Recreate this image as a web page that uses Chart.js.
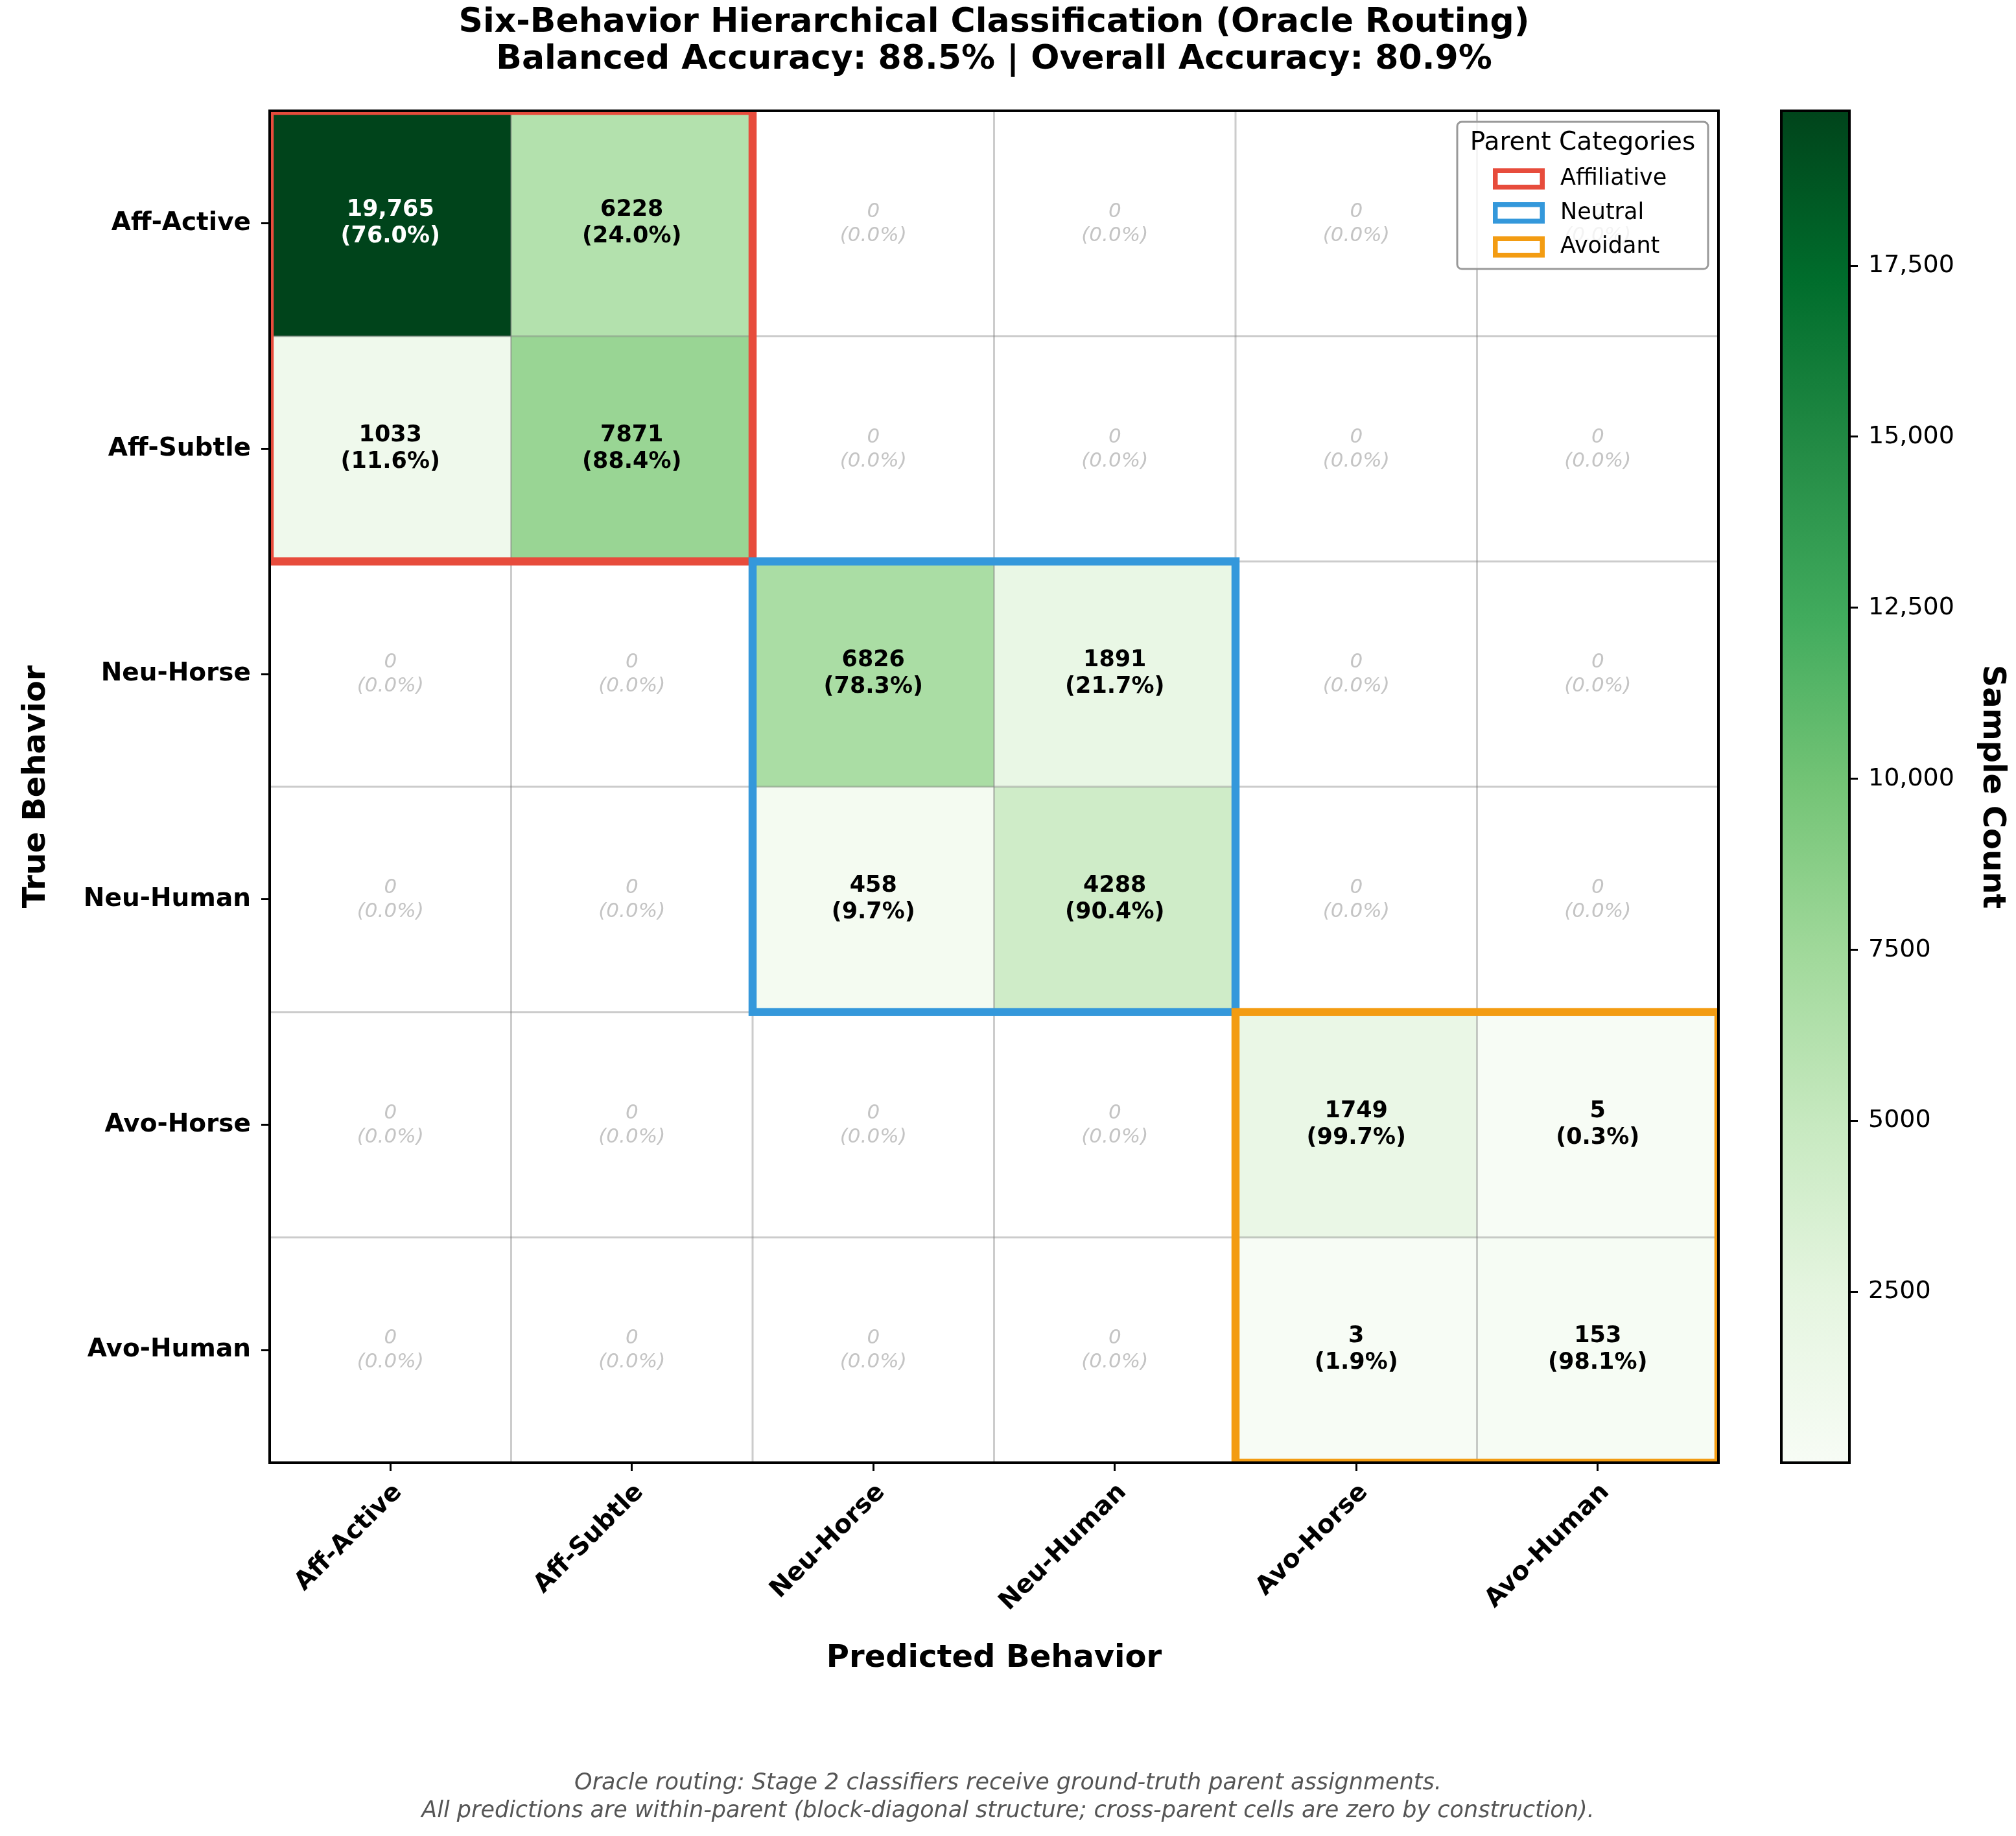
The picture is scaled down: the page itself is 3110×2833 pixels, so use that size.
<!DOCTYPE html>
<html>
<head>
<meta charset="utf-8">
<script src="https://cdn.jsdelivr.net/npm/chart.js@4.4.1/dist/chart.umd.min.js"></script>
<style>
  html, body { margin: 0; padding: 0; background: #ffffff; }
  #wrap { position: relative; width: 3110px; height: 2833px; }
  #matriz { position: absolute; left: 0; top: 0; }
  #barra { position: absolute; left: 2700px; top: 0; }
</style>
</head>
<body>
<div id="wrap">
  <canvas id="matriz" width="3110" height="2833"></canvas>
  <canvas id="barra" width="410" height="2833"></canvas>
</div>
<script>
const fonte = 'DejaVu Sans';

const rotulosPrevistos = ['Aff-Active', 'Aff-Subtle', 'Neu-Horse', 'Neu-Human', 'Avo-Horse', 'Avo-Human'];
const rotulosVerdadeiros = ['Aff-Active', 'Aff-Subtle', 'Neu-Horse', 'Neu-Human', 'Avo-Horse', 'Avo-Human'];

// contagens por linha (comportamento verdadeiro)
const linhaAffActive = [19765, 6228, 0, 0, 0, 0];
const linhaAffSubtle = [1033, 7871, 0, 0, 0, 0];
const linhaNeuHorse = [0, 0, 6826, 1891, 0, 0];
const linhaNeuHuman = [0, 0, 458, 4288, 0, 0];
const linhaAvoHorse = [0, 0, 0, 0, 1749, 5];
const linhaAvoHuman = [0, 0, 0, 0, 3, 153];

// percentuais mostrados em cada celula
const pctAffActive = [76.0, 24.0, 0, 0, 0, 0];
const pctAffSubtle = [11.6, 88.4, 0, 0, 0, 0];
const pctNeuHorse = [0, 0, 78.3, 21.7, 0, 0];
const pctNeuHuman = [0, 0, 9.7, 90.4, 0, 0];
const pctAvoHorse = [0, 0, 0, 0, 99.7, 0.3];
const pctAvoHuman = [0, 0, 0, 0, 1.9, 98.1];

const contagens = [linhaAffActive, linhaAffSubtle, linhaNeuHorse, linhaNeuHuman, linhaAvoHorse, linhaAvoHuman];
const percentuais = [pctAffActive, pctAffSubtle, pctNeuHorse, pctNeuHuman, pctAvoHorse, pctAvoHuman];

const categoriasPai = ['Affiliative', 'Neutral', 'Avoidant'];
const coresPai = ['#e74c3c', '#3498db', '#f39c12'];
const inicioPai = [0, 2, 4];
const fimPai = [1, 3, 5];

const escalaMin = 3;
const escalaMax = 19765;
const ticksBarra = [2500, 5000, 7500, 10000, 12500, 15000, 17500];

const verdes = ['#f7fcf5', '#e5f5e0', '#c7e9c0', '#a1d99b', '#74c476', '#41ab5d', '#238b45', '#006d2c', '#00441b'];

function hexParaRgb(h) {
  return [parseInt(h.slice(1, 3), 16), parseInt(h.slice(3, 5), 16), parseInt(h.slice(5, 7), 16)];
}

function corCelula(v) {
  if (v === 0) return '#ffffff';
  let t = (v - escalaMin) / (escalaMax - escalaMin);
  t = Math.max(0, Math.min(1, t));
  const p = t * 8;
  const k = Math.min(7, Math.floor(p));
  const f = p - k;
  const a = hexParaRgb(verdes[k]);
  const b = hexParaRgb(verdes[k + 1]);
  const c = a.map((x, i) => Math.round(x + (b[i] - x) * f));
  return 'rgb(' + c.join(',') + ')';
}

function formatar(v) {
  return v >= 10000 ? v.toLocaleString('en-US') : String(v);
}

const datasets = contagens.map((linha, i) => ({
  label: rotulosVerdadeiros[i],
  data: linha.map(() => [i, i + 1]),
  backgroundColor: linha.map(corCelula),
  borderWidth: 0,
  barPercentage: 1,
  categoryPercentage: 1,
  grouped: false
}));

const desenhoMatriz = {
  id: 'desenhoMatriz',
  afterDatasetsDraw(chart) {
    const { ctx, chartArea, scales: { x, y } } = chart;
    ctx.save();

    // grade entre as celulas
    ctx.strokeStyle = 'rgba(128,128,128,0.4)';
    ctx.lineWidth = 3;
    for (let j = 1; j < rotulosPrevistos.length; j++) {
      const px = x.getPixelForValue(j - 0.5);
      ctx.beginPath();
      ctx.moveTo(px, chartArea.top);
      ctx.lineTo(px, chartArea.bottom);
      ctx.stroke();
    }
    for (let i = 1; i < rotulosVerdadeiros.length; i++) {
      const py = y.getPixelForValue(i);
      ctx.beginPath();
      ctx.moveTo(chartArea.left, py);
      ctx.lineTo(chartArea.right, py);
      ctx.stroke();
    }

    // textos das celulas
    ctx.textAlign = 'center';
    ctx.textBaseline = 'middle';
    contagens.forEach((linha, i) => {
      const cy = y.getPixelForValue(i + 0.5);
      linha.forEach((v, j) => {
        const cx = x.getPixelForValue(j);
        const pct = '(' + percentuais[i][j].toFixed(1) + '%)';
        if (v === 0) {
          ctx.font = 'italic 31px "' + fonte + '"';
          ctx.fillStyle = '#c4c4c4';
          ctx.fillText(String(v), cx, cy - 18);
          ctx.fillText(pct, cx, cy + 19);
        } else {
          ctx.font = 'bold 35px "' + fonte + '"';
          ctx.fillStyle = v > escalaMax / 2 ? '#ffffff' : '#000000';
          ctx.fillText(formatar(v), cx, cy - 21);
          ctx.fillText(pct, cx, cy + 20);
        }
      });
    });

    // blocos das categorias pai
    ctx.beginPath();
    ctx.rect(chartArea.left, chartArea.top, chartArea.right - chartArea.left, chartArea.bottom - chartArea.top);
    ctx.clip();
    ctx.lineWidth = 12.5;
    categoriasPai.forEach((nome, k) => {
      const x0 = x.getPixelForValue(inicioPai[k] - 0.5);
      const x1 = x.getPixelForValue(fimPai[k] + 0.5);
      const y0 = y.getPixelForValue(inicioPai[k]);
      const y1 = y.getPixelForValue(fimPai[k] + 1);
      ctx.strokeStyle = coresPai[k];
      ctx.strokeRect(x0, y0, x1 - x0, y1 - y0);
    });
    ctx.restore();

    // moldura
    ctx.save();
    ctx.strokeStyle = '#000000';
    ctx.lineWidth = 4;
    ctx.strokeRect(chartArea.left, chartArea.top, chartArea.right - chartArea.left, chartArea.bottom - chartArea.top);
    ctx.restore();

    // legenda
    ctx.save();
    const lx = 2248, ly = 188, lw = 387, lh = 227;
    ctx.beginPath();
    ctx.roundRect(lx, ly, lw, lh, 7);
    ctx.fillStyle = 'rgba(255,255,255,0.8)';
    ctx.fill();
    ctx.strokeStyle = '#999999';
    ctx.lineWidth = 3;
    ctx.stroke();
    ctx.fillStyle = '#000000';
    ctx.textBaseline = 'middle';
    ctx.textAlign = 'center';
    ctx.font = '39px "' + fonte + '"';
    ctx.fillText('Parent Categories', lx + lw / 2, 221);
    ctx.textAlign = 'left';
    ctx.font = '35px "' + fonte + '"';
    categoriasPai.forEach((nome, k) => {
      const iy = 276 + k * 52.5;
      ctx.strokeStyle = coresPai[k];
      ctx.lineWidth = 7.5;
      ctx.strokeRect(2303 + 3.75, iy - 16.5 + 3.75, 80 - 7.5, 33 - 7.5);
      ctx.fillStyle = '#000000';
      ctx.fillText(nome, 2407, iy);
    });
    ctx.restore();
  }
};

new Chart(document.getElementById('matriz'), {
  type: 'bar',
  data: { labels: rotulosPrevistos, datasets: datasets },
  plugins: [desenhoMatriz],
  options: {
    responsive: false,
    devicePixelRatio: 1,
    animation: false,
    events: [],
    layout: { padding: 0 },
    plugins: {
      legend: { display: false },
      tooltip: { enabled: false },
      title: {
        display: true,
        fullSize: false,
        text: ['Six-Behavior Hierarchical Classification (Oracle Routing)', 'Balanced Accuracy: 88.5% | Overall Accuracy: 80.9%'],
        color: '#000000',
        font: { family: fonte, size: 52, weight: 'bold', lineHeight: 1.115 },
        padding: { top: 6, bottom: 49 }
      },
      subtitle: {
        display: true,
        position: 'bottom',
        text: ['Oracle routing: Stage 2 classifiers receive ground-truth parent assignments.', 'All predictions are within-parent (block-diagonal structure; cross-parent cells are zero by construction).'],
        color: '#555555',
        font: { family: fonte, size: 35, style: 'italic', lineHeight: 1.23 },
        padding: { top: 0, bottom: 16.5 }
      }
    },
    scales: {
      x: {
        type: 'category',
        offset: true,
        afterFit: (eixo) => { eixo.height = 473.4; },
        grid: { offset: false, drawOnChartArea: false, tickLength: 13, color: '#000000', lineWidth: 3 },
        border: { display: false },
        ticks: {
          autoSkip: false,
          maxRotation: 45,
          minRotation: 45,
          padding: 10,
          labelOffset: 12,
          color: '#000000',
          font: { family: fonte, size: 39, weight: 'bold' }
        },
        title: {
          display: true,
          text: 'Predicted Behavior',
          color: '#000000',
          font: { family: fonte, size: 48, weight: 'bold', lineHeight: 1.2 },
          padding: { top: 0, bottom: 142 }
        }
      },
      y: {
        type: 'linear',
        min: 0,
        max: rotulosVerdadeiros.length,
        reverse: true,
        afterFit: (eixo) => { eixo.width = 416; },
        afterBuildTicks: (eixo) => { eixo.ticks = rotulosVerdadeiros.map((r, i) => ({ value: i + 0.5 })); },
        grid: { drawOnChartArea: false, tickLength: 13, color: '#000000', lineWidth: 3 },
        border: { display: false },
        ticks: {
          padding: 16,
          color: '#000000',
          font: { family: fonte, size: 39, weight: 'bold' },
          callback: (v, i) => rotulosVerdadeiros[i]
        },
        title: {
          display: true,
          text: 'True Behavior',
          color: '#000000',
          font: { family: fonte, size: 48, weight: 'bold', lineHeight: 1.2 },
          padding: { top: 28, bottom: 0 }
        }
      },
      // espaco reservado para a barra de cores
      espacoDireita: {
        type: 'linear',
        position: 'right',
        afterFit: (eixo) => { eixo.width = 459; },
        grid: { display: false },
        border: { display: false },
        ticks: { display: false }
      }
    }
  }
});

// barra de cores
const molduraBarra = {
  id: 'molduraBarra',
  afterDatasetsDraw(chart) {
    const { ctx, chartArea } = chart;
    ctx.save();
    ctx.strokeStyle = '#000000';
    ctx.lineWidth = 4;
    ctx.strokeRect(chartArea.left, chartArea.top, chartArea.right - chartArea.left, chartArea.bottom - chartArea.top);
    ctx.restore();
  }
};

new Chart(document.getElementById('barra'), {
  type: 'bar',
  data: {
    labels: ['Sample Count'],
    datasets: [{
      data: [[escalaMin, escalaMax]],
      borderWidth: 0,
      barPercentage: 1,
      categoryPercentage: 1,
      backgroundColor: (c) => {
        const chart = c.chart;
        if (!chart.chartArea) return verdes[0];
        const ys = chart.scales.y;
        const g = chart.ctx.createLinearGradient(0, ys.getPixelForValue(escalaMin), 0, ys.getPixelForValue(escalaMax));
        verdes.forEach((cor, k) => g.addColorStop(k / 8, cor));
        return g;
      }
    }]
  },
  plugins: [molduraBarra],
  options: {
    responsive: false,
    devicePixelRatio: 1,
    animation: false,
    events: [],
    layout: { padding: { left: 48, right: 0, top: 171, bottom: 576 } },
    plugins: { legend: { display: false }, tooltip: { enabled: false } },
    scales: {
      x: { display: false, offset: true },
      y: {
        type: 'linear',
        position: 'right',
        min: escalaMin,
        max: escalaMax,
        afterFit: (eixo) => { eixo.width = 257; },
        afterBuildTicks: (eixo) => { eixo.ticks = ticksBarra.map((v) => ({ value: v })); },
        grid: { drawOnChartArea: false, tickLength: 13, color: '#000000', lineWidth: 3 },
        border: { display: false },
        ticks: {
          padding: 16,
          color: '#000000',
          font: { family: fonte, size: 38 },
          callback: (v) => formatar(v)
        },
        title: {
          display: true,
          text: 'Sample Count',
          color: '#000000',
          font: { family: fonte, size: 48, weight: 'bold', lineHeight: 1.2 },
          padding: { top: 9, bottom: 0 }
        }
      }
    }
  }
});
</script>
</body>
</html>
